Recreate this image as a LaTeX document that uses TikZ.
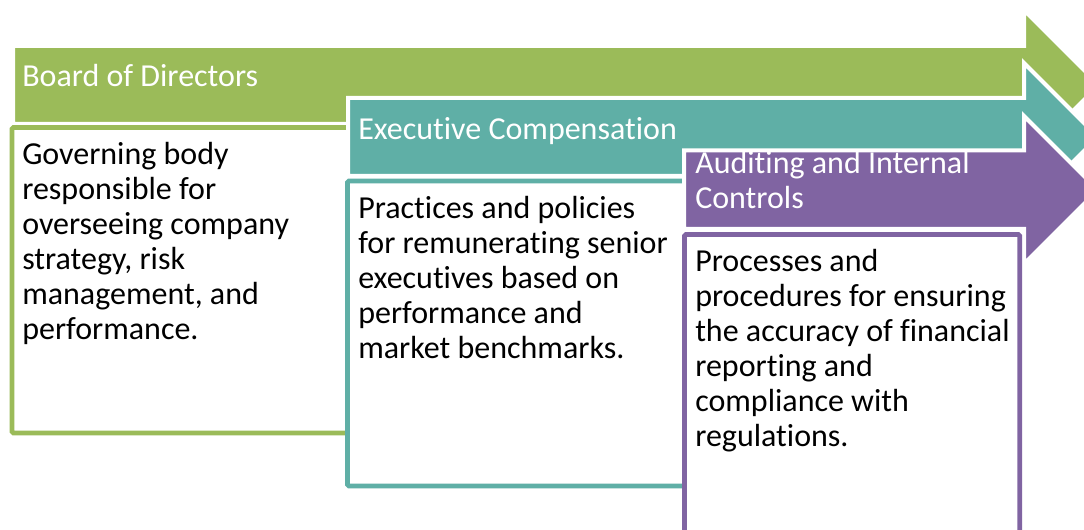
\documentclass[tikz,border=0pt]{standalone}
\usepackage{fontspec}
\setmainfont{Carlito}[Ligatures=NoCommon]
\definecolor{boardgreen}{HTML}{9BBB59}
\definecolor{compteal}{HTML}{5FAFA6}
\definecolor{auditpurple}{HTML}{8064A2}
\begin{document}
\begin{tikzpicture}[x=0.75pt,y=-0.75pt,
  band/.style={fill=#1, draw=white, line width=3pt, line join=miter},
  panel/.style={draw=#1, line width=3.5pt, rounded corners=1pt},
  % text nodes are placed by the baseline of their last line
  headtext/.style={anchor=base west, inner sep=0pt, align=left, text=white,
    font=\fontsize{24}{26.25}\selectfont},
  bodytext/.style={anchor=base west, inner sep=0pt, align=left, text=black,
    font=\fontsize{24}{26.25}\selectfont}]
\clip (0,0) rectangle (1084,530);
\fill[white] (0,0) rectangle (1084,530);

% Board of Directors: arrow band and description panel
% (the panel's right side lies under the next stage)
\path[band=boardgreen] (13,46) -- (1024,46) -- (1024,10) -- (1099,85)
  -- (1024,160) -- (1024,124) -- (13,124) -- cycle;
\path[panel=boardgreen] (348,127.5) -- (12,127.5) -- (12,433) -- (348,433);
\node[headtext] (board) at (22,87) {Board of Directors};
\node[bodytext] (boarddesc) at (22,340) {Governing body\\responsible for\\overseeing company\\strategy, risk\\management, and\\performance.};

% Executive Compensation
\path[band=compteal] (348,98) -- (1024,98) -- (1024,63) -- (1098,137)
  -- (1024,211) -- (1024,176) -- (348,176) -- cycle;
\path[panel=compteal] (684,181) -- (347.5,181) -- (347.5,486) -- (684,486);
\node[headtext] (comp) at (358,140) {Executive Compensation};
\node[bodytext] (compdesc) at (358,359) {Practices and policies\\for remunerating senior\\executives based on\\performance and\\market benchmarks.};

% Auditing and Internal Controls
\path[band=auditpurple] (684,150.5) -- (1024,150.5) -- (1024,116) -- (1098,190)
  -- (1024,264) -- (1024,229) -- (684,229) -- cycle;
\path[panel=auditpurple, fill=white] (684.5,234.5) rectangle (1019.7,600);
\node[headtext] (audit) at (695,209) {Auditing and Internal\\Controls};
\node[bodytext] (auditdesc) at (695,446) {Processes and\\procedures for ensuring\\the accuracy of financial\\reporting and\\compliance with\\regulations.};
\end{tikzpicture}
\end{document}
